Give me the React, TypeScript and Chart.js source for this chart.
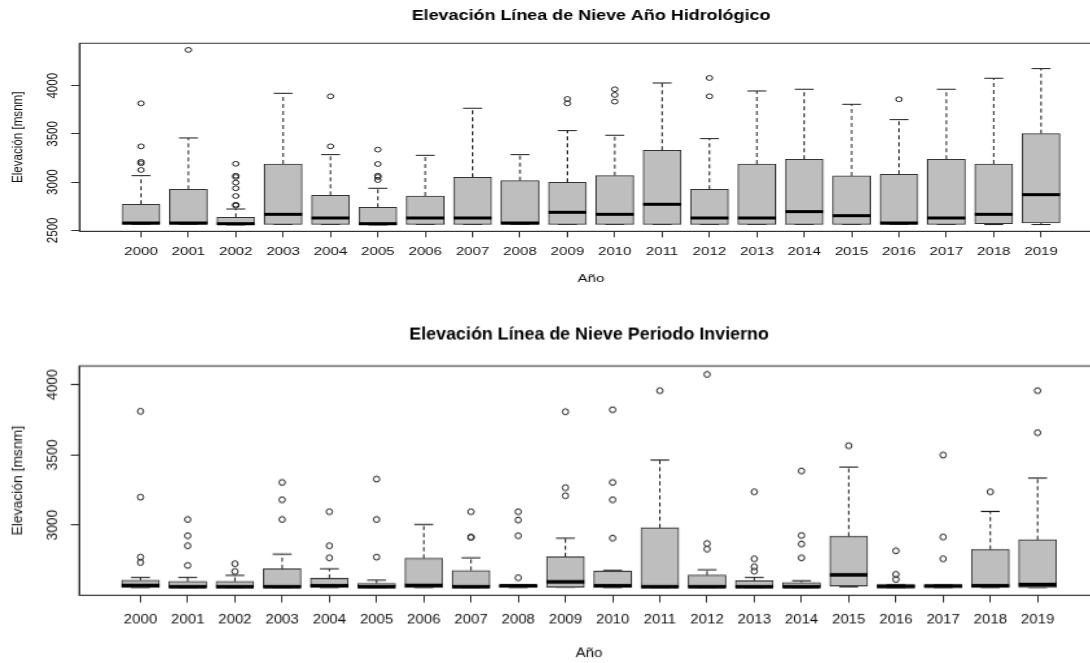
import { useEffect, useRef } from 'react';
import { Chart, registerables } from 'chart.js';

Chart.register(...registerables);

const FONT = "'Liberation Sans', Arial, Helvetica, sans-serif";

const years = ['2000', '2001', '2002', '2003', '2004', '2005', '2006', '2007', '2008', '2009',
  '2010', '2011', '2012', '2013', '2014', '2015', '2016', '2017', '2018', '2019'];

// ---- Año hidrológico ----
const hidroQ1 = [2562, 2562, 2556, 2562, 2562, 2556, 2562, 2562, 2562, 2562, 2562, 2562, 2562, 2562, 2562, 2562, 2562, 2562, 2569, 2576];
const hidroMedian = [2576, 2576, 2569, 2666, 2628, 2569, 2628, 2628, 2576, 2687, 2666, 2770, 2628, 2628, 2694, 2652, 2576, 2628, 2666, 2870];
const hidroQ3 = [2770, 2925, 2635, 3188, 2863, 2739, 2856, 3050, 3015, 2998, 3067, 3330, 2925, 3188, 3237, 3064, 3081, 3237, 3188, 3503];
const hidroLower = [2562, 2562, 2556, 2562, 2562, 2556, 2562, 2562, 2562, 2562, 2562, 2562, 2562, 2562, 2562, 2562, 2562, 2562, 2560, 2560];
const hidroUpper = [3067, 3458, 2721, 3921, 3285, 2936, 3278, 3766, 3285, 3534, 3486, 4028, 3451, 3945, 3963, 3807, 3648, 3963, 4077, 4177];
const hidroOutliers: number[][] = [
  [3817, 3371, 3210, 3195, 3126],
  [4371],
  [3190, 3067, 3053, 2995, 2936, 2856, 2766, 2756],
  [],
  [3890, 3371],
  [3337, 3188, 3067, 3053, 3022],
  [],
  [],
  [],
  [3862, 3817],
  [3963, 3904, 3835],
  [],
  [4080, 3890],
  [],
  [],
  [],
  [3859],
  [],
  [],
  [],
];
const hidroYTicks = [2500, 3000, 3500, 4000];

// ---- Periodo invierno ----
const invQ1 = [2556, 2556, 2556, 2556, 2556, 2556, 2556, 2556, 2556, 2558, 2556, 2556, 2556, 2556, 2556, 2566, 2556, 2556, 2556, 2556];
const invMedian = [2570, 2561, 2561, 2561, 2568, 2561, 2570, 2561, 2568, 2596, 2568, 2561, 2561, 2561, 2561, 2646, 2563, 2566, 2568, 2577];
const invQ3 = [2608, 2599, 2599, 2689, 2620, 2585, 2763, 2677, 2574, 2774, 2672, 2981, 2644, 2604, 2592, 2922, 2577, 2575, 2827, 2896];
const invLower = [2556, 2556, 2556, 2556, 2556, 2556, 2556, 2556, 2556, 2558, 2556, 2556, 2556, 2556, 2556, 2561, 2556, 2556, 2556, 2556];
const invUpper = [2627, 2627, 2642, 2793, 2689, 2608, 3005, 2767, 2574, 2907, 2677, 3463, 2682, 2627, 2604, 3413, 2577, 2575, 3097, 3335];
const invOutliers: number[][] = [
  [3810, 3199, 2772, 2734],
  [3040, 2924, 2853, 2713],
  [2725, 2670],
  [3304, 3180, 3040],
  [3095, 2853, 2767],
  [3328, 3040, 2772],
  [],
  [3095, 2915, 2912],
  [3095, 3036, 2924, 2625],
  [3807, 3266, 3209],
  [3821, 3304, 3180, 2907],
  [3957],
  [4073, 2869, 2829],
  [3237, 2760, 2703, 2672],
  [3385, 2926, 2865, 2767],
  [3565],
  [2817, 2649, 2613],
  [3499, 2915, 2760],
  [3237],
  [3957, 3658],
];
const invYTicks = [3000, 3500, 4000];

type Spec = {
  title: string;
  q1: number[]; median: number[]; q3: number[]; lower: number[]; upper: number[]; outliers: number[][];
  yMin: number; yMax: number; yTicks: number[];
  titlePad: { top: number; bottom: number };
  xAxisHeight: number; xTickPad: number; xTitlePadBottom: number;
  rightPad: number; dash: number[];
};

const BOX_W = 29.15;
const STAPLE_W = 14.6;
const Y_AXIS_W = 61.1;
const AXIS_FONT = { family: FONT, size: 11.6 };
const TEXT_COLOR = '#111';

const hidroSpec: Spec = {
  title: 'Elevación Línea de Nieve Año Hidrológico',
  q1: hidroQ1, median: hidroMedian, q3: hidroQ3, lower: hidroLower, upper: hidroUpper, outliers: hidroOutliers,
  yMin: 2490, yMax: 4440, yTicks: hidroYTicks,
  titlePad: { top: 8.0, bottom: 18.7 },
  xAxisHeight: 68.7, xTickPad: 7.3, xTitlePadBottom: 13.9,
  rightPad: 11.8, dash: [4, 3],
};

const invSpec: Spec = {
  title: 'Elevación Línea de Nieve Periodo Invierno',
  q1: invQ1, median: invMedian, q3: invQ3, lower: invLower, upper: invUpper, outliers: invOutliers,
  yMin: 2500, yMax: 4133, yTicks: invYTicks,
  titlePad: { top: 20.5, bottom: 18.0 },
  xAxisHeight: 56.5, xTickPad: 7.7, xTitlePadBottom: 1.2,
  rightPad: 11.4, dash: [3.4, 2.5],
};

function build(canvas: HTMLCanvasElement, s: Spec) {
  const seg = (ctx: CanvasRenderingContext2D, x1: number, y1: number, x2: number, y2: number) => {
    ctx.beginPath();
    ctx.moveTo(x1, y1);
    ctx.lineTo(x2, y2);
    ctx.stroke();
  };
  const extras = {
    id: 'boxExtras',
    beforeDatasetsDraw(chart: any) {
      const ctx: CanvasRenderingContext2D = chart.ctx;
      const xs = chart.scales.x;
      const ys = chart.scales.y;
      ctx.save();
      ctx.strokeStyle = '#1c1c1c';
      ctx.lineWidth = 1;
      ctx.lineCap = 'butt';
      years.forEach((_, i) => {
        const px = xs.getPixelForValue(i + 1);
        const yq1 = ys.getPixelForValue(s.q1[i]);
        const yq3 = ys.getPixelForValue(s.q3[i]);
        const ylo = ys.getPixelForValue(s.lower[i]);
        const yhi = ys.getPixelForValue(s.upper[i]);
        ctx.setLineDash(s.dash);
        if (s.upper[i] > s.q3[i]) seg(ctx, px, yq3, px, yhi);
        if (s.lower[i] < s.q1[i]) seg(ctx, px, yq1, px, ylo);
        ctx.setLineDash([]);
        seg(ctx, px - STAPLE_W / 2, yhi, px + STAPLE_W / 2, yhi);
        seg(ctx, px - STAPLE_W / 2, ylo, px + STAPLE_W / 2, ylo);
      });
      ctx.restore();
    },
    afterDatasetsDraw(chart: any) {
      const ctx: CanvasRenderingContext2D = chart.ctx;
      const xs = chart.scales.x;
      const ys = chart.scales.y;
      ctx.save();
      ctx.strokeStyle = '#000';
      ctx.lineWidth = 3;
      ctx.lineCap = 'butt';
      years.forEach((_, i) => {
        const px = xs.getPixelForValue(i + 1);
        const ym = ys.getPixelForValue(s.median[i]);
        seg(ctx, px - BOX_W / 2, ym, px + BOX_W / 2, ym);
      });
      const a = chart.chartArea;
      ctx.lineWidth = 1;
      ctx.strokeStyle = '#333';
      ctx.strokeRect(a.left, a.top, a.right - a.left, a.bottom - a.top);
      ctx.restore();
    },
  };

  return new Chart(canvas, {
    type: 'bar',
    data: {
      datasets: [
        {
          type: 'scatter',
          data: years.flatMap((_, i) => s.outliers[i].map((v) => ({ x: i + 1, y: v }))),
          pointRadius: 2.4,
          pointBorderWidth: 1,
          pointBorderColor: '#222',
          pointBackgroundColor: 'rgba(0,0,0,0)',
          showLine: false,
          order: 0,
        } as any,
        {
          type: 'bar',
          data: years.map((_, i) => ({ x: i + 1, y: [s.q1[i], s.q3[i]] })),
          backgroundColor: '#BEBEBE',
          borderColor: '#333',
          borderWidth: 1,
          borderSkipped: false,
          barThickness: BOX_W,
          order: 1,
        } as any,
      ],
    },
    options: {
      responsive: false,
      animation: false,
      devicePixelRatio: 1,
      events: [],
      layout: { padding: { left: 0, right: s.rightPad, top: 0, bottom: 0 } },
      plugins: {
        legend: { display: false },
        tooltip: { enabled: false },
        title: {
          display: true,
          text: s.title,
          fullSize: false,
          color: '#000',
          font: { family: FONT, size: 13.8, weight: 'bold' },
          padding: s.titlePad,
        },
      },
      scales: {
        x: {
          type: 'linear',
          min: -0.3,
          max: 21.3,
          bounds: 'data',
          offset: false,
          afterBuildTicks: (sc: any) => {
            sc.ticks = years.map((_, i) => ({ value: i + 1 }));
          },
          afterFit: (sc: any) => {
            sc.height = s.xAxisHeight;
          },
          ticks: {
            callback: (v: any) => years[Number(v) - 1] ?? '',
            font: AXIS_FONT,
            color: TEXT_COLOR,
            padding: s.xTickPad,
            autoSkip: false,
            maxRotation: 0,
            minRotation: 0,
          },
          grid: { display: true, offset: false, drawOnChartArea: false, drawTicks: true, tickLength: 6, color: '#333', tickColor: '#333' },
          border: { display: true, color: '#333' },
          title: {
            display: true,
            text: 'Año',
            font: AXIS_FONT,
            color: TEXT_COLOR,
            padding: { top: 0, bottom: s.xTitlePadBottom },
          },
        },
        y: {
          type: 'linear',
          min: s.yMin,
          max: s.yMax,
          bounds: 'data',
          afterBuildTicks: (sc: any) => {
            sc.ticks = s.yTicks.map((v) => ({ value: v }));
          },
          afterFit: (sc: any) => {
            sc.width = Y_AXIS_W;
          },
          ticks: {
            font: AXIS_FONT,
            color: TEXT_COLOR,
            minRotation: 90,
            maxRotation: 90,
            crossAlign: 'center',
            padding: 0.9,
            autoSkip: false,
            callback: (v: any) => String(v),
          },
          grid: { display: true, drawOnChartArea: false, drawTicks: true, tickLength: 6.4, color: '#333', tickColor: '#333' },
          border: { display: true, color: '#333' },
          title: {
            display: true,
            text: 'Elevación [msnm]',
            font: AXIS_FONT,
            color: TEXT_COLOR,
            padding: { top: 6.6, bottom: 0 },
          },
        },
      },
    } as any,
    plugins: [extras],
  });
}

export default function App() {
  const r1 = useRef<HTMLCanvasElement>(null);
  const r2 = useRef<HTMLCanvasElement>(null);

  useEffect(() => {
    const c1 = build(r1.current as HTMLCanvasElement, hidroSpec);
    const c2 = build(r2.current as HTMLCanvasElement, invSpec);
    return () => {
      c1.destroy();
      c2.destroy();
    };
  }, []);

  return (
    <div
      style={{
        position: 'fixed',
        left: 0,
        top: 0,
        width: 1090,
        height: 663,
        overflow: 'hidden',
        background: '#fff',
      }}
    >
      <canvas
        ref={r1}
        width={860}
        height={300}
        style={{ position: 'absolute', left: 0, top: 0, width: 860, height: 300, transform: 'scale(1.3, 1)', transformOrigin: '0 0' }}
      />
      <canvas
        ref={r2}
        width={860}
        height={303}
        style={{ position: 'absolute', left: 0, top: 300, width: 860, height: 303, transform: 'scale(1.295, 1.198)', transformOrigin: '0 0' }}
      />
    </div>
  );
}
